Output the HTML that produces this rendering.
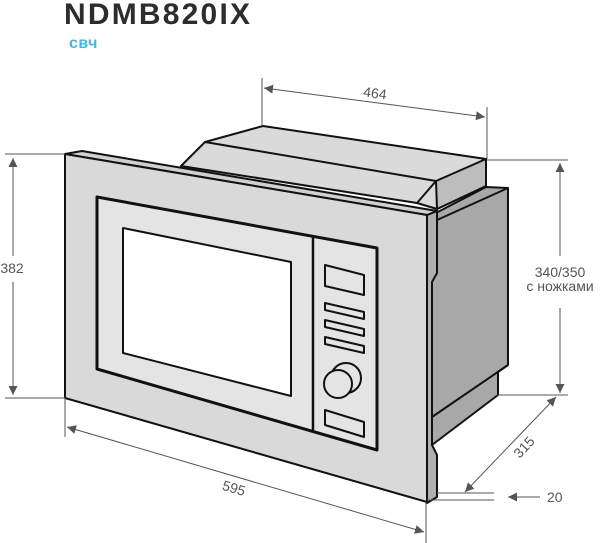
<!DOCTYPE html>
<html><head><meta charset="utf-8"><style>
html,body{margin:0;padding:0;background:#fff;width:600px;height:543px;overflow:hidden}
svg{display:block}
text{font-family:"Liberation Sans",sans-serif}
</style></head><body>
<svg width="600" height="543" viewBox="0 0 600 543" xmlns="http://www.w3.org/2000/svg">
<defs>
<marker id="a" viewBox="0 0 10 10" refX="10" refY="5" markerWidth="9" markerHeight="9" orient="auto-start-reverse" markerUnits="userSpaceOnUse"><path d="M0,0 L10,5 L0,10 z" fill="#555"/></marker>
</defs>
<text x="64" y="24" font-size="30" font-weight="bold" fill="#2d2d2d" letter-spacing="2.2">NDMB820IX</text>
<text x="69" y="48" font-size="16" font-weight="bold" fill="#3db9ea" letter-spacing="0.5">свч</text>

<g stroke="#111" stroke-width="2" stroke-linejoin="round">
<polygon points="432,215 486,187 508,188 508,365 498,372 498,395 432,445" fill="#a8a8a8"/>
<line x1="437" y1="220" x2="508" y2="188"/>
<line x1="432" y1="417" x2="508" y2="365"/>
<polygon points="181,166 205,142 263,126 486,159 486,186 437,209 417,203" fill="#dadada"/>
<polygon points="436,181 486,159 486,186 437,209" fill="#bdbdbd"/>
<line x1="205" y1="142" x2="436" y2="181"/>
<line x1="436" y1="181" x2="417" y2="203"/>
<polygon points="427,215 437,211 437,273 432,282 432,445 437,455 437,497 427,503" fill="#b0b0b0"/>
<polygon points="65,154 82,151 437,211 427,215" fill="#d0d0d0"/>
<polygon points="65,154 427,215 427,502 65,398" fill="#d9d9d9"/>
<polygon points="97,197 377,248 377,450 97,369" fill="#e4e4e4" stroke-width="3"/>
<polygon points="123,228 291,262 291,396 123,353" fill="#fff"/>
<line x1="313" y1="237" x2="313" y2="430" stroke-width="2.5"/>
<polygon points="325,265 364,275 364,295 325,286" fill="#e4e4e4"/>
<polygon points="325,303 364,312 364,319 325,310" fill="#e4e4e4"/>
<polygon points="325,320 364,329 364,336 325,327" fill="#e4e4e4"/>
<polygon points="325,337 364,346 364,353 325,344" fill="#e4e4e4"/>
<circle cx="346" cy="378" r="15" fill="#e4e4e4"/>
<circle cx="338" cy="384" r="14" fill="#e4e4e4"/>
<polygon points="325,410 364,422 364,437 325,425" fill="#e4e4e4"/>
</g>

<g stroke="#555" stroke-width="1" fill="none">
<line x1="262" y1="78" x2="262" y2="126"/>
<line x1="487" y1="107" x2="487" y2="159"/>
<line x1="264" y1="88" x2="485" y2="117" marker-start="url(#a)" marker-end="url(#a)"/>
<line x1="5" y1="154" x2="65" y2="154"/>
<line x1="5" y1="398" x2="65" y2="398"/>
<line x1="13" y1="158" x2="13" y2="256" marker-start="url(#a)"/>
<line x1="13" y1="282" x2="13" y2="395" marker-end="url(#a)"/>
<line x1="487" y1="160" x2="568" y2="160"/>
<line x1="497" y1="395" x2="568" y2="395"/>
<line x1="560" y1="163" x2="560" y2="256" marker-start="url(#a)"/>
<line x1="560" y1="308" x2="560" y2="393" marker-end="url(#a)"/>
<line x1="65" y1="398" x2="65" y2="437"/>
<line x1="426" y1="502" x2="426" y2="543"/>
<line x1="67" y1="427" x2="424" y2="532" marker-start="url(#a)" marker-end="url(#a)"/>
<line x1="556" y1="397" x2="465" y2="492" marker-start="url(#a)" marker-end="url(#a)"/>
<line x1="437" y1="493" x2="494" y2="493"/>
<line x1="427" y1="500" x2="494" y2="500"/>
<line x1="540" y1="497" x2="508" y2="497" marker-end="url(#a)"/>
</g>

<g fill="#555" font-size="14">
<text x="375" y="98" text-anchor="middle" transform="rotate(7.5 375 93)">464</text>
<text x="12" y="273" text-anchor="middle">382</text>
<text x="560" y="277" text-anchor="middle">340/350</text>
<text x="560" y="291" text-anchor="middle">с ножками</text>
<text x="234" y="493" text-anchor="middle" transform="rotate(16.5 234 488)">595</text>
<text x="524" y="452" text-anchor="middle" transform="rotate(-47 524 447)">315</text>
<text x="547" y="502">20</text>
</g>
</svg>
</body></html>
